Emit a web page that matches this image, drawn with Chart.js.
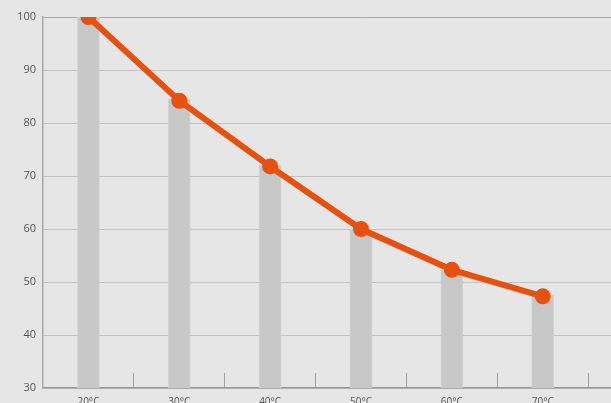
<!DOCTYPE html>
<html>
<head>
<meta charset="utf-8">
<script src="https://cdn.jsdelivr.net/npm/chart.js@4"></script>
<style>
  html, body { margin: 0; padding: 0; background: #e6e6e6; overflow: hidden; }
  #wrap { width: 688px; height: 420px; }
</style>
</head>
<body>
<div id="wrap"><canvas id="chart"></canvas></div>
<script>
const categories = ["20°C", "30°C", "40°C", "50°C", "60°C", "70°C"];
const barValues = [100, 84.5, 72, 60, 52.2, 47.5];
const lineValues = [100, 84.2, 71.8, 60, 52.3, 47.3];
const yTicks = [30, 40, 50, 60, 70, 80, 90, 100];

document.addEventListener("DOMContentLoaded", function () {
  const ctx = document.getElementById("chart").getContext("2d");
  // extra empty slot: the plot runs on past the right edge of the picture
  const labels = categories.concat([""]);

  new Chart(ctx, {
    data: {
      labels: labels,
      datasets: [
        {
          type: "line",
          data: lineValues,
          borderColor: "#e8500f",
          backgroundColor: "#e8500f",
          borderWidth: 6,
          pointRadius: 7,
          pointBorderWidth: 2,
          pointBackgroundColor: "#e8500f",
          pointBorderColor: "#e8500f",
          tension: 0,
          order: 0,
        },
        {
          type: "bar",
          data: barValues,
          backgroundColor: "#c8c8c8",
          borderColor: "#d2d2d2",
          borderWidth: 1,
          barThickness: 22,
          order: 1,
        },
      ],
    },
    options: {
      responsive: true,
      maintainAspectRatio: false,
      animation: false,
      layout: { padding: { top: 17, left: 0, right: 0, bottom: 0 } },
      plugins: { legend: { display: false }, tooltip: { enabled: false } },
      scales: {
        x: {
          grid: {
            offset: true,
            drawOnChartArea: false,
            tickLength: -15,
            color: "#a0a0a0",
          },
          border: { color: "#999", width: 1.5 },
          ticks: {
            color: "#555",
            padding: 23,
            font: { family: "Open Sans", size: 10 },
          },
          afterFit: function (scale) {
            scale.height = 32;
          },
        },
        y: {
          min: yTicks[0],
          max: yTicks[yTicks.length - 1],
          afterBuildTicks: function (scale) {
            scale.ticks = yTicks.map(function (v) { return { value: v }; });
          },
          grid: {
            drawTicks: false,
            color: function (c) {
              return c.tick && c.tick.value === 100 ? "#a8a8a8" : "#c2c2c2";
            },
          },
          border: { color: "#a8a8a8", width: 1.5 },
          ticks: {
            color: "#555",
            padding: 7,
            font: { family: "Open Sans", size: 11 },
          },
          afterFit: function (scale) {
            scale.width = 43;
          },
        },
      },
    },
  });
});
</script>
</body>
</html>
